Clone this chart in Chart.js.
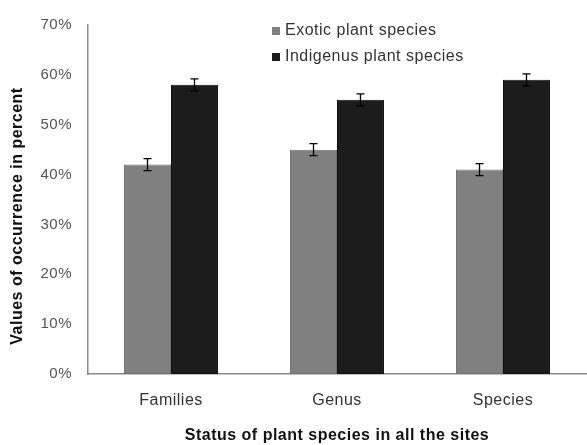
<!DOCTYPE html>
<html>
<head>
<meta charset="utf-8">
<script src="https://cdn.jsdelivr.net/npm/chart.js@4/dist/chart.umd.min.js"></script>
<style>
  html, body { margin: 0; padding: 0; background: #fff; }
  #wrap { width: 587px; height: 445px; position: relative; }
</style>
</head>
<body>
<div id="wrap"><canvas id="chart"></canvas></div>
<script>
const categories = ['Families', 'Genus', 'Species'];
const exoticValues = [42, 45, 41];
const indigenusValues = [58, 55, 59];
const exoticErrors = [1.2, 1.2, 1.2];
const indigenusErrors = [1.2, 1.2, 1.2];
const yTicks = [0, 10, 20, 30, 40, 50, 60, 70];
const yTitle = 'Values of occurrence in percent';
const xTitle = 'Status of plant species in all the sites';

const FONT = '"Liberation Sans", Arial, sans-serif';

// error bars + legend + y title drawn on top
const extras = {
    id: 'extras',
    beforeDraw(chart) {
        // the reference text is a bit loosely spaced
        chart.ctx.letterSpacing = '0.5px';
    },
    afterDatasetsDraw(chart) {
        const ctx = chart.ctx;
        const yScale = chart.scales.y;
        const errs = [exoticErrors, indigenusErrors];
        ctx.save();
        ctx.strokeStyle = '#000';
        ctx.lineWidth = 1.3;
        chart.data.datasets.forEach((ds, i) => {
            chart.getDatasetMeta(i).data.forEach((bar, j) => {
                const v = ds.data[j];
                const yTop = yScale.getPixelForValue(v + errs[i][j]);
                const yBot = yScale.getPixelForValue(v - errs[i][j]);
                const x = bar.x;
                ctx.beginPath();
                ctx.moveTo(x, yTop); ctx.lineTo(x, yBot);
                ctx.moveTo(x - 4, yTop); ctx.lineTo(x + 4, yTop);
                ctx.moveTo(x - 4, yBot); ctx.lineTo(x + 4, yBot);
                ctx.stroke();
            });
        });

        // legend
        ctx.letterSpacing = '0.5px';
        ctx.font = '16px ' + FONT;
        ctx.textBaseline = 'middle';
        ctx.textAlign = 'left';
        chart.data.datasets.forEach((ds, i) => {
            const cy = 31 + i * 26;
            ctx.fillStyle = ds.backgroundColor;
            ctx.fillRect(272, cy - 4, 8, 8);
            ctx.fillStyle = '#333';
            ctx.fillText(ds.label, 285, cy);
        });

        // y title
        ctx.font = 'bold 16px ' + FONT;
        ctx.fillStyle = '#111';
        ctx.textAlign = 'center';
        ctx.translate(18, 216);
        ctx.rotate(-Math.PI / 2);
        ctx.fillText(yTitle, 0, 0);
        ctx.restore();
    }
};

new Chart(document.getElementById('chart'), {
    type: 'bar',
    data: {
        labels: categories,
        datasets: [
            {
                label: 'Exotic plant species',
                data: exoticValues,
                backgroundColor: '#808080',
                borderColor: '#707070',
                borderWidth: 1,
                borderSkipped: false,
                barPercentage: 1,
                categoryPercentage: 0.566
            },
            {
                label: 'Indigenus plant species',
                data: indigenusValues,
                backgroundColor: '#1c1c1c',
                borderColor: '#111111',
                borderWidth: 1,
                borderSkipped: false,
                barPercentage: 1,
                categoryPercentage: 0.566
            }
        ]
    },
    options: {
        responsive: true,
        maintainAspectRatio: false,
        animation: false,
        layout: { padding: { top: 21, right: 1, left: 0, bottom: 0 } },
        scales: {
            x: {
                grid: { display: false, drawTicks: false },
                border: { display: true, color: '#8a8a8a', width: 1.5 },
                ticks: {
                    padding: 17,
                    color: '#333',
                    font: { family: FONT, size: 16 }
                },
                title: {
                    display: true,
                    text: xTitle,
                    color: '#111',
                    padding: { top: 0, bottom: 0 },
                    font: { family: FONT, size: 16, weight: 'bold' }
                },
                afterFit: (scale) => { scale.height = 71; }
            },
            y: {
                min: 0,
                max: 70,
                grid: { display: false, drawTicks: false },
                border: { display: true, color: '#8a8a8a', width: 1.5 },
                afterBuildTicks: (scale) => { scale.ticks = yTicks.map(v => ({ value: v })); },
                ticks: {
                    padding: 16,
                    color: '#555',
                    font: { family: FONT, size: 15 },
                    callback: (v) => v + '%'
                },
                afterFit: (scale) => { scale.width = 88; }
            }
        },
        plugins: {
            legend: { display: false },
            tooltip: { enabled: false }
        }
    },
    plugins: [extras]
});
</script>
</body>
</html>
